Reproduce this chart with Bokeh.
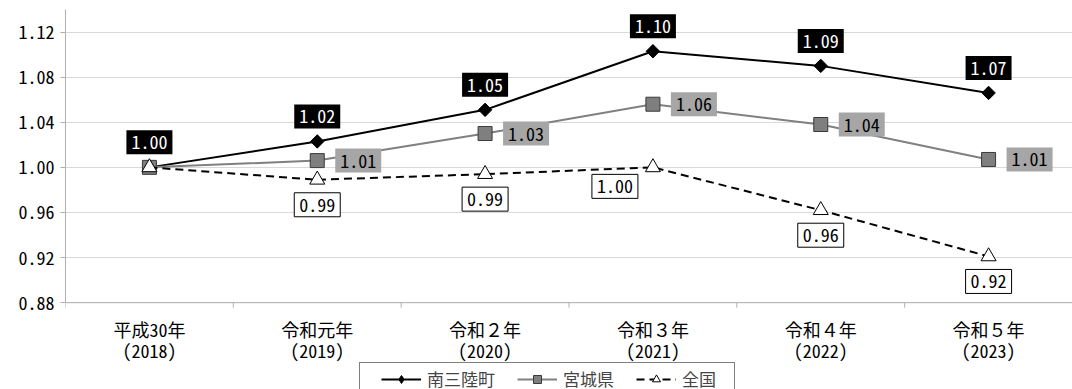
import math

from bokeh.core.properties import value
from bokeh.embed import file_html
from bokeh.models import FixedTicker, Legend, LegendItem, PrintfTickFormatter, Range1d
from bokeh.plotting import figure
from bokeh.resources import INLINE

# Index values (2018 = 1.00)
years = ["平成30年\n(2018)", "令和元年\n(2019)", "令和２年\n(2020)",
         "令和３年\n(2021)", "令和４年\n(2022)", "令和５年\n(2023)"]
minamisanriku = [1.000, 1.023, 1.051, 1.103, 1.090, 1.066]
miyagi = [1.000, 1.006, 1.030, 1.056, 1.038, 1.007]
zenkoku = [1.000, 0.989, 0.994, 1.000, 0.962, 0.921]
y_ticks = [0.88, 0.92, 0.96, 1.00, 1.04, 1.08, 1.12]
series_names = ["南三陸町", "宮城県", "全国"]

FONT = "Noto Sans Mono CJK JP"
FS = "18px"
AXIS_GRAY = "#b0b0b0"

n = len(years)
x = [i + 0.5 for i in range(n)]
y_base = y_ticks[0]
y_top = 1.14
# the frame runs down to the bottom edge so the category axis and key sit inside it
y_bottom = 0.803

p = figure(width=1072, height=389, frame_width=1007, frame_height=380,
           x_range=Range1d(0, n), y_range=Range1d(y_bottom, y_top),
           output_backend="svg", toolbar_location=None,
           min_border_left=65, min_border_right=0,
           min_border_top=9, min_border_bottom=0)
p.outline_line_color = None
p.background_fill_color = "white"
p.border_fill_color = "white"

p.xaxis.visible = False
p.xgrid.visible = False

# y axis, limited to the value band
p.yaxis.ticker = FixedTicker(ticks=y_ticks)
p.yaxis.bounds = (y_base, y_top)
p.yaxis.formatter = PrintfTickFormatter(format="%.2f")
p.yaxis.minor_tick_line_color = None
p.yaxis.major_tick_out = 5
p.yaxis.major_tick_in = 0
p.yaxis.major_tick_line_color = AXIS_GRAY
p.yaxis.axis_line_color = AXIS_GRAY
p.yaxis.major_label_standoff = 6
p.yaxis.major_label_text_font = FONT
p.yaxis.major_label_text_font_size = FS
p.yaxis.major_label_text_color = "black"
p.ygrid.grid_line_color = "#d9d9d9"

# category axis: base line, boundary ticks and two-line labels
bounds = list(range(n + 1))
p.line([bounds[0], bounds[-1]], [y_base, y_base], line_color=AXIS_GRAY, line_width=1)
tick_len = 5 * (y_top - y_bottom) / 380
p.segment(x0=bounds, y0=[y_base] * len(bounds), x1=bounds,
          y1=[y_base - tick_len] * len(bounds), line_color=AXIS_GRAY, line_width=1)
line1 = [s.split("\n")[0] for s in years]
line2 = [s.split("\n")[1] for s in years]
p.text(x, [y_base] * n, text=line1, text_font=value(FONT), text_font_size=FS,
       text_color="black", text_align="center", text_baseline="middle", y_offset=26)
p.text(x, [y_base] * n, text=line2, text_font=value(FONT), text_font_size=FS,
       text_color="black", text_align="center", text_baseline="middle", y_offset=47)

# series
r1l = p.line(x, minamisanriku, line_color="black", line_width=2)
# diamond used for the key; covered by the rotated squares on the chart
r1k = p.scatter(x, minamisanriku, marker="diamond", size=12,
                fill_color="black", line_color="black")
r1m = p.scatter(x, minamisanriku, marker="square", size=9.5, angle=math.pi / 4,
                fill_color="black", line_color="black")
r2l = p.line(x, miyagi, line_color="#808080", line_width=2)
r2m = p.scatter(x, miyagi, marker="square", size=14,
                fill_color="#7f7f7f", line_color="#3a3a3a", line_width=1)
r3l = p.line(x, zenkoku, line_color="black", line_width=2, line_dash="8 5")
r3m = p.scatter(x, zenkoku, marker="triangle", size=15,
                fill_color="white", line_color="black", line_width=1)

def fmt(vals):
    return [f"{v:.2f}" for v in vals]

# data labels
p.text(x, minamisanriku, text=fmt(minamisanriku),
       text_font=value(FONT), text_font_size=FS, text_color="white",
       text_align="center", text_baseline="middle", y_offset=-25,
       background_fill_color="black", padding=5)

p.text(x[1:], miyagi[1:], text=fmt(miyagi[1:]),
       text_font=value(FONT), text_font_size=FS, text_color="black",
       text_align="left", text_baseline="middle", x_offset=18,
       background_fill_color="#a6a6a6", padding=5)

zx_off = [0, 0, -38, 0, 0]
zy_off = [25, 25, 19, 25, 25]
p.text(x[1:], zenkoku[1:], text=fmt(zenkoku[1:]),
       text_font=value(FONT), text_font_size=FS, text_color="black",
       text_align="center", text_baseline="middle",
       x_offset=zx_off, y_offset=zy_off,
       background_fill_color="white", border_line_color="black",
       border_line_width=1, padding=5)

legend = Legend(items=[
    LegendItem(label=series_names[0], renderers=[r1l, r1k]),
    LegendItem(label=series_names[1], renderers=[r2l, r2m]),
    LegendItem(label=series_names[2], renderers=[r3l, r3m]),
], orientation="horizontal", location=(294, -6),
    border_line_color="black", border_line_width=1,
    background_fill_color="white", background_fill_alpha=1,
    label_text_font=FONT, label_text_font_size="17px",
    glyph_width=40, glyph_height=20, label_height=20,
    label_standoff=6, spacing=22, margin=0)
try:
    legend.padding = dict(left=21, right=18, top=3, bottom=3)
except Exception:
    legend.padding = 3
p.add_layout(legend)

open("out.html", "w").write(file_html(p, INLINE))
